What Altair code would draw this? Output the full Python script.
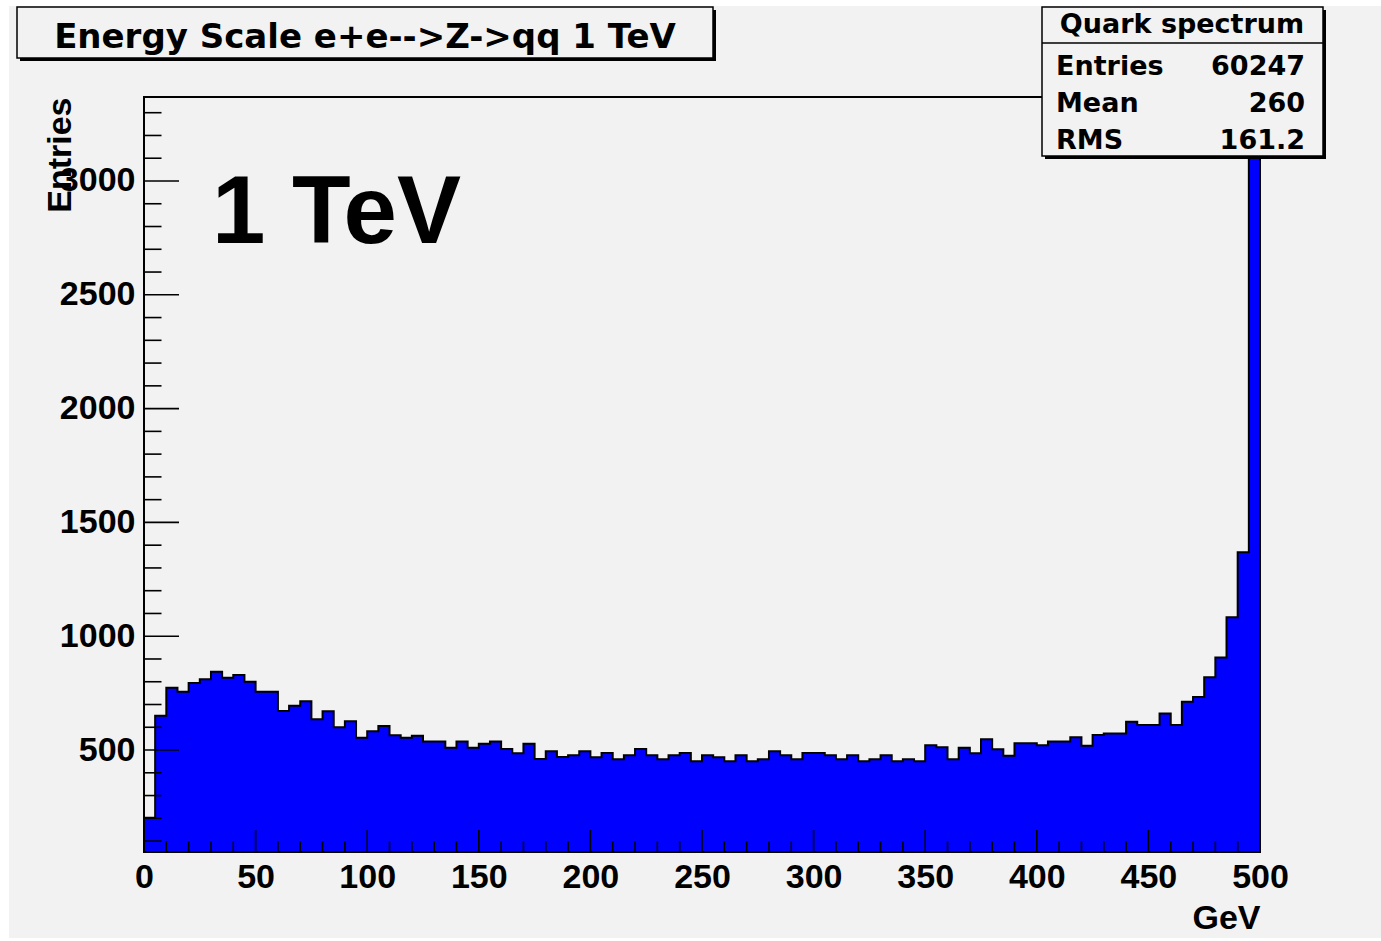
import altair as alt
import pandas as pd

# Quark energy spectrum, e+e- -> Z -> qq at 1 TeV: 100 bins of 5 GeV from 0 to 500 GeV
BIN_WIDTH = 5
X_MIN, X_MAX = 0, 500
COUNTS = [
    203, 651, 774, 756, 795, 811, 844, 818, 830, 800,
    756, 756, 671, 695, 714, 635, 670, 600, 626, 554,
    582, 606, 565, 554, 563, 538, 538, 510, 538, 510,
    528, 538, 504, 486, 528, 461, 495, 469, 477, 495,
    468, 487, 459, 477, 504, 477, 459, 477, 487, 451,
    477, 468, 451, 477, 451, 459, 495, 477, 459, 487,
    487, 477, 459, 477, 451, 459, 477, 451, 459, 451,
    521, 512, 459, 510, 486, 547, 503, 475, 530, 530,
    521, 537, 537, 556, 519, 566, 573, 573, 624, 610,
    610, 661, 610, 712, 733, 820, 907, 1083, 1369, 3218,
]
Y_MIN, Y_MAX = 52, 3369

X_LABELS = [0, 50, 100, 150, 200, 250, 300, 350, 400, 450, 500]
X_MINOR = [10, 20, 30, 40, 60, 70, 80, 90, 110, 120, 130, 140,
           160, 170, 180, 190, 210, 220, 230, 240, 260, 270, 280, 290,
           310, 320, 330, 340, 360, 370, 380, 390, 410, 420, 430, 440,
           460, 470, 480, 490]
Y_LABELS = [500, 1000, 1500, 2000, 2500, 3000]
Y_MINOR = [100, 200, 300, 400, 600, 700, 800, 900, 1100, 1200, 1300, 1400,
           1600, 1700, 1800, 1900, 2100, 2200, 2300, 2400, 2600, 2700, 2800, 2900,
           3100, 3200, 3300]

TITLE = "Energy Scale e+e-->Z->qq 1 TeV"
ENERGY_LABEL = "1 TeV"
X_TITLE = "GeV"
Y_TITLE = "Entries"
STATS_TITLE = "Quark spectrum"
STAT_NAMES = ["Entries", "Mean", "RMS"]
STAT_VALUES = ["60247", "260", "161.2"]

W, H = 1116, 755
CANVAS = "#f2f2f2"
LABEL_FONT = "Liberation Sans"
BOX_FONT = "DejaVu Sans"

# step outline of the histogram: start at the frame bottom, one point per bin edge
edges = [X_MIN] + [X_MIN + BIN_WIDTH * i for i in range(len(COUNTS))] + [X_MAX]
heights = [Y_MIN] + COUNTS + [COUNTS[-1]]
steps = pd.DataFrame({"i": list(range(len(edges))), "x": edges, "y": heights})

xscale = alt.Scale(domain=[X_MIN, X_MAX], nice=False, zero=False)
yscale = alt.Scale(domain=[Y_MIN, Y_MAX], nice=False, zero=False)

xaxis = alt.Axis(
    values=X_LABELS, format="d", grid=False, domain=False, ticks=False, tickSize=0,
    labelFont=LABEL_FONT, labelFontSize=34, labelFontWeight="bold", labelColor="black",
    labelPadding=8, labelFlush=False, labelOverlap=False,
    title=X_TITLE, titleFont=LABEL_FONT, titleFontSize=34, titleFontWeight="bold",
    titleColor="black", titleAlign="right", titleBaseline="alphabetic",
    titleX=W, titleY=76, titleAngle=0, zindex=1,
)
yaxis = alt.Axis(
    values=Y_LABELS, format="d", grid=False, domain=False, ticks=False, tickSize=0,
    labelFont=LABEL_FONT, labelFontSize=34, labelFontWeight="bold", labelColor="black",
    labelPadding=9, labelFlush=False, labelOverlap=False,
    title=Y_TITLE, titleFont=LABEL_FONT, titleFontSize=34, titleFontWeight="bold",
    titleColor="black", titleAlign="right", titleBaseline="alphabetic",
    titleX=-74, titleY=0, titleAngle=270, zindex=1,
)


def xenc():
    return alt.X("x:Q", scale=xscale, axis=xaxis)


def yenc():
    return alt.Y("y:Q", scale=yscale, axis=yaxis)


one = pd.DataFrame({"k": [0]})

background = alt.Chart(one).mark_rect(color=CANVAS).encode(
    x=alt.value(-135), x2=alt.value(1237), y=alt.value(-91), y2=alt.value(841)
)

fill = alt.Chart(steps.iloc[1:]).mark_area(
    interpolate="step-after", color="#0000ff"
).encode(x=xenc(), y=yenc(), y2=alt.datum(Y_MIN))

outline = alt.Chart(steps).mark_line(
    interpolate="step-after", color="black", strokeWidth=2, strokeJoin="miter"
).encode(x=xenc(), y=yenc(), order=alt.Order("i:Q"))

frame = alt.Chart(one).mark_rect(
    fill="transparent", stroke="black", strokeWidth=2
).encode(x=alt.value(0), x2=alt.value(W), y=alt.value(0), y2=alt.value(H))


def x_ticks(values, length):
    return alt.Chart(pd.DataFrame({"x": values})).mark_rule(
        color="black", strokeWidth=1.6
    ).encode(x=xenc(), y=alt.value(H), y2=alt.value(H - length))


def y_ticks(values, length):
    return alt.Chart(pd.DataFrame({"y": values})).mark_rule(
        color="black", strokeWidth=1.6
    ).encode(y=yenc(), x=alt.value(0), x2=alt.value(length))


ticks = [
    x_ticks(X_LABELS, 22), x_ticks(X_MINOR, 11),
    y_ticks(Y_LABELS, 35), y_ticks(Y_MINOR, 17.5),
]

energy = alt.Chart(one).mark_text(
    font=LABEL_FONT, fontSize=96, fontWeight="bold", color="black",
    align="left", baseline="alphabetic",
).encode(x=alt.value(68), y=alt.value(146), text=alt.value(ENERGY_LABEL))


def box(x0, x1, y0, y1):
    shadow = alt.Chart(one).mark_rect(color="black").encode(
        x=alt.value(x0 + 3), x2=alt.value(x1 + 3), y=alt.value(y0 + 3), y2=alt.value(y1 + 3)
    )
    panel = alt.Chart(one).mark_rect(fill=CANVAS, stroke="black", strokeWidth=1.5).encode(
        x=alt.value(x0), x2=alt.value(x1), y=alt.value(y0), y2=alt.value(y1)
    )
    return [shadow, panel]


def label(text, x, y, size, align):
    return alt.Chart(one).mark_text(
        font=BOX_FONT, fontSize=size, fontWeight="bold", color="black",
        align=align, baseline="alphabetic",
    ).encode(x=alt.value(x), y=alt.value(y), text=alt.value(text))


title_layers = box(-127, 569, -90, -39) + [label(TITLE, 221, -49, 34, "center")]

stats_layers = box(898, 1179, -90, 59)
stats_layers.append(
    alt.Chart(one).mark_rule(color="black", strokeWidth=1.5).encode(
        x=alt.value(898), x2=alt.value(1179), y=alt.value(-54)
    )
)
stats_layers.append(label(STATS_TITLE, 1038, -64, 27, "center"))
for row, (name, value) in enumerate(zip(STAT_NAMES, STAT_VALUES)):
    baseline = -22 + 37 * row
    stats_layers.append(label(name, 912, baseline, 27, "left"))
    stats_layers.append(label(value, 1161, baseline, 27, "right"))

chart = alt.layer(
    background, fill, outline, frame, *ticks, energy, *title_layers, *stats_layers
).properties(
    width=W, height=H,
    padding={"left": 144, "top": 97, "right": 121, "bottom": 89},
    autosize=alt.AutoSizeParams(type="none"),
).configure(
    background="white",
).configure_view(
    strokeOpacity=0,
)

chart.save("out.html", embed_options={"renderer": "svg", "actions": False})
